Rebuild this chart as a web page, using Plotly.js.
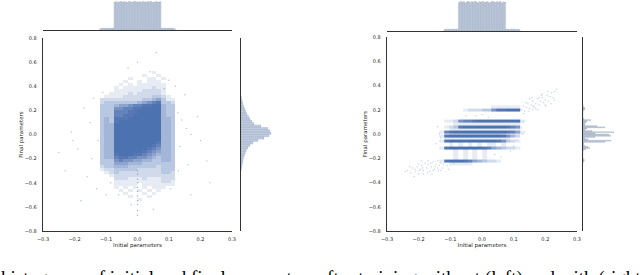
<!DOCTYPE html>
<html><head><meta charset="utf-8">
<script src="https://cdn.plot.ly/plotly-3.0.1.min.js"></script>
<style>html,body{margin:0;padding:0;background:#fff}#chart{width:640px;height:275px}</style>
</head><body><div id="chart"></div>
<script>
// ---------- DATA ----------
// Density grid of the left scatter (levels 0-9), rows top (y=0.55) to bottom (y=-0.55), 0.025 per row,
// columns x=-0.135..0.135, 0.015 per column
const leftDensityRows = [
"000000000000000000","000000000000100000","000000000010010000","000000010001101000",
"000000100101110000","000001010111111000","000010111111211000","000011111122221000",
"000111121222221000","001111222222332100","022222222233453110","023333333456783320",
"033345567788994330","033366778899994330","033377788999994330","033377889999994330",
"034388899999994430","034389999999994430","034499999999994430","034499999999994430",
"034499999999994430","034499999999994430","034499999999994430","034499999999994430",
"034499999999984430","034499999999874430","034499999998764430","034499999987654430",
"034489998876544430","034478877665434430","033367665544334430","033355544433333330",
"023344433333323330","012233333222223330","001232222222223320","000122222222222220",
"000022211121112220","000011111111112210","000011111011111110","000010101010111000",
"000001010101010000","000000100010100000","000000010001000000","000000000100000000"
];
// Density grid of the right scatter: band rows, top to bottom, with their y edges
const rightRowEdges = [0.235,0.207,0.183,0.12,0.096,0.072,0.049,0.026,0.004,-0.008,-0.03,-0.048,-0.071,-0.102,-0.127,-0.208,-0.232,-0.26];
const rightDensityRows = [
"000000000001111110","000001222336889990","000000000000000000","011267789999999991",
"000111111111111110","012389999999998760","001111111111111110","178999999999998751",
"012222222222221110","189999999999986420","011111111111111000","189999999999863210",
"001010101011010000","189999999875432210","000101010100000000","189998754322100000",
"001111100000000000"
];
// sparse points
const leftSparseX = [-0.21,-0.19,-0.23,-0.15,-0.16,-0.14,-0.17,-0.25,-0.13,-0.18,-0.205,-0.145,0.15,0.17,0.2,0.16,0.14,0.23,0.19,0.17,0.13,0.22,0.155,0.135,0.06,0.0,-0.03,0.05,-0.02,0.1,-0.1,0.12,-0.11,0.105,-0.125,0.128,-0.06,0.04,0.085,-0.085];
const leftSparseY = [0.02,-0.12,-0.3,0.1,-0.35,0.3,0.22,-0.15,-0.45,-0.55,-0.05,-0.2,0.33,0.0,-0.05,-0.25,0.12,-0.4,0.15,-0.5,-0.3,-0.22,0.05,-0.1,0.68,0.6,0.55,-0.62,-0.58,0.45,-0.5,0.4,0.35,-0.45,-0.05,0.18,-0.5,0.52,0.38,-0.4];
const leftLineX = [0,0,0,0,0,0,0,0,0,0,0];
const leftLineY = [-0.3,-0.33,-0.37,-0.4,-0.44,-0.47,-0.51,-0.55,-0.58,-0.63,-0.67];
const rightSparseX = [-0.235,-0.225,-0.22,-0.21,-0.205,-0.2,-0.195,-0.19,-0.185,-0.18,-0.175,-0.17,-0.165,-0.16,-0.155,-0.15,-0.145,-0.14,-0.135,-0.13,-0.125,-0.215,-0.2,-0.185,-0.17,-0.155,-0.14,-0.13,-0.11,-0.09,
 -0.228,-0.212,-0.198,-0.188,-0.172,-0.162,-0.148,-0.138,-0.122,-0.105,-0.242,-0.192,-0.158,
 0.125,0.13,0.135,0.14,0.145,0.15,0.155,0.16,0.165,0.17,0.175,0.18,0.185,0.19,0.195,0.2,0.205,0.21,0.215,0.22,0.225,0.23,0.235,0.14,0.16,0.18,0.2,0.15,0.17,0.19,
 0.132,0.148,0.162,0.176,0.188,0.202,0.218,0.228,0.158,0.208,
 0.13,0.125,0.128,0.11,0.1,0.09,0.06,0.04,-0.135,-0.14,-0.13,-0.145,-0.02,0.0,0.02,-0.05];
const rightSparseY = [-0.3,-0.32,-0.28,-0.31,-0.27,-0.33,-0.29,-0.26,-0.3,-0.24,-0.28,-0.25,-0.31,-0.27,-0.23,-0.29,-0.25,-0.22,-0.26,-0.24,-0.28,-0.35,-0.25,-0.33,-0.22,-0.3,-0.28,-0.3,-0.26,-0.24,
 -0.27,-0.29,-0.3,-0.28,-0.32,-0.24,-0.27,-0.3,-0.25,-0.29,-0.31,-0.22,-0.33,
 0.2,0.23,0.19,0.22,0.25,0.21,0.24,0.27,0.22,0.25,0.29,0.24,0.27,0.3,0.26,0.28,0.32,0.27,0.31,0.34,0.3,0.35,0.37,0.26,0.2,0.3,0.24,0.29,0.21,0.33,
 0.17,0.19,0.23,0.2,0.32,0.23,0.25,0.28,0.3,0.35,
 0.1,0.05,0.0,-0.05,-0.1,-0.14,-0.19,-0.17,0.0,0.06,-0.03,-0.08,0.15,0.16,0.14,0.15];
// marginal histograms: initial parameters (bins of 0.005 from -0.125)
const leftInitHist = [0,0.05,0.06,0.07,0.06,0.07,0.06,0.07,0.06,0.07,
 0.97,0.99,0.96,0.98,1.0,0.97,0.99,0.98,0.96,1.0,0.98,0.97,0.99,1.0,0.98,0.97,0.99,0.96,1.0,0.98,0.97,0.99,0.98,1.0,0.97,0.96,0.99,0.98,0.97,0.99,
 0.07,0.06,0.07,0.06,0.07,0.06,0.07,0.06,0.05,0];
const rightInitHist = [0,0.05,0.07,0.06,0.07,0.05,0.07,0.06,0.07,0.06,
 0.96,1.0,0.97,0.99,0.95,0.98,1.0,0.96,0.99,0.97,1.0,0.98,0.95,0.99,0.97,1.0,0.96,0.98,0.99,0.95,0.97,1.0,0.98,0.96,0.99,0.97,1.0,0.95,0.98,0.97,
 0.06,0.07,0.05,0.07,0.06,0.07,0.05,0.06,0.05,0];
// final parameters: left (bins of 0.02 from -0.3), right (bins of 0.01 from -0.25)
const leftFinalHist = [0.3,0.8,1.2,1.7,2.2,2.8,3.5,4.5,5.5,7,9,12,17,23,28,30,29,27,20,13,11,9,7.5,6,5,4,3,2,1.5,0.8,0.3];
const rightFinalHist = [0,0,1,1.5,0.5,0,0,0,0,0,0,0.5,3,7,5,1.5,0.5,1,22,28,5,2,12,28,26,12,31,9,2,4,22,14,2,1.5,3,4,8,1,0,0,0,0,0,0,0.5,2,2,0.5,0,0];
const yTicks = [-0.8,-0.6,-0.4,-0.2,0.0,0.2,0.4,0.6,0.8];
const xTicks = [-0.3,-0.2,-0.1,0.0,0.1,0.2,0.3];
const captionText = "histograms of initial and final parameters after training without (left) and with (right)";

// ---------- CHART ----------
const BLUE = '#4c72b0';
const scale = [[0,'#ffffff'],[0.111,'#e6ebf4'],[0.222,'#d0daeb'],[0.333,'#b9c8e2'],[0.444,'#a3b6d8'],
  [0.556,'#8da5ce'],[0.667,'#7893c4'],[0.778,'#6483bb'],[0.889,'#5677b3'],[1,BLUE]];
const toZ = rows => rows.slice().reverse().map(s => s.split('').map(Number));

const histStyle = {color:'rgba(76,114,176,0.36)', line:{color:'rgba(120,120,120,0.28)', width:0.4}};
const traces = [
  {type:'heatmap', xaxis:'x', yaxis:'y', z:toZ(leftDensityRows), x0:-0.1275, dx:0.015, y0:-0.5375, dy:0.025,
   colorscale:scale, zmin:0, zmax:9, showscale:false, hoverinfo:'skip'},
  {type:'scatter', mode:'markers', xaxis:'x', yaxis:'y', x:leftSparseX, y:leftSparseY, marker:{size:1.5,color:BLUE,opacity:0.4}, hoverinfo:'skip'},
  {type:'scatter', mode:'markers', xaxis:'x', yaxis:'y', x:leftLineX, y:leftLineY, marker:{size:1.5,color:BLUE,opacity:0.5}, hoverinfo:'skip'},
  {type:'bar', xaxis:'x2', yaxis:'y2', x0:-0.1225, dx:0.005, y:leftInitHist, marker:histStyle, hoverinfo:'skip'},
  {type:'bar', orientation:'h', xaxis:'x3', yaxis:'y3', y0:-0.29, dy:0.02, x:leftFinalHist, marker:histStyle, hoverinfo:'skip'},

  {type:'heatmap', xaxis:'x4', yaxis:'y4', z:toZ(rightDensityRows), x0:-0.1275, dx:0.015, y:rightRowEdges.slice().reverse(),
   colorscale:scale, zmin:0, zmax:9, showscale:false, hoverinfo:'skip'},
  {type:'scatter', mode:'markers', xaxis:'x4', yaxis:'y4', x:rightSparseX, y:rightSparseY, marker:{size:1.5,color:BLUE,opacity:0.3}, hoverinfo:'skip'},
  {type:'bar', xaxis:'x5', yaxis:'y5', x0:-0.1225, dx:0.005, y:rightInitHist, marker:histStyle, hoverinfo:'skip'},
  {type:'bar', orientation:'h', xaxis:'x6', yaxis:'y6', y0:-0.245, dy:0.01, x:rightFinalHist, marker:histStyle, hoverinfo:'skip'}
];

const W=640,H=275;
const px = (a,b)=>[a/W,b/W];
const py = (top,bottom)=>[(H-bottom)/H,(H-top)/H];
const tf = {family:'DejaVu Sans, sans-serif', size:5, color:'#262626'};
const lineC = '#333333';
function mainX(dom, anchor){return {domain:dom, anchor:anchor, range:[-0.3,0.3], tickvals:xTicks, tickformat:'.1f',
  showline:true, linecolor:lineC, linewidth:1.2, showgrid:false, zeroline:false, ticks:'outside', ticklen:3, tickcolor:'rgba(0,0,0,0)',
  tickfont:tf, title:{text:'Initial parameters', font:{family:'DejaVu Sans, sans-serif', size:5.5, color:'#262626'}, standoff:2}};}
function mainY(dom, anchor){return {domain:dom, anchor:anchor, range:[-0.8,0.8], tickvals:yTicks, tickformat:'.1f',
  showline:true, linecolor:lineC, linewidth:1.2, showgrid:false, zeroline:false, ticks:'outside', ticklen:4, tickcolor:'rgba(0,0,0,0)',
  tickfont:tf, title:{text:'Final parameters', font:{family:'DejaVu Sans, sans-serif', size:5.5, color:'#262626'}, standoff:0}};}
const hidden = {showgrid:false, zeroline:false, showticklabels:false, ticks:''};

const layout = {
  width:W, height:H, margin:{l:0,r:0,t:0,b:0}, showlegend:false, bargap:0,
  paper_bgcolor:'#fff', plot_bgcolor:'rgba(0,0,0,0)',
  xaxis: mainX(px(43,232),'y'),
  yaxis: mainY(py(38,231),'x'),
  xaxis2: Object.assign({domain:px(43,232), anchor:'y2', range:[-0.3,0.3], showline:true, linecolor:lineC, linewidth:1.2}, hidden),
  yaxis2: Object.assign({domain:py(0,30), anchor:'x2', range:[0,1.04], showline:false}, hidden),
  xaxis3: Object.assign({domain:px(241,275), anchor:'y3', range:[0,34], showline:false}, hidden),
  yaxis3: Object.assign({domain:py(38,231), anchor:'x3', range:[-0.8,0.8], showline:true, linecolor:lineC, linewidth:1.2}, hidden),
  xaxis4: mainX(px(387,577),'y4'),
  yaxis4: mainY(py(37,231),'x4'),
  xaxis5: Object.assign({domain:px(387,577), anchor:'y5', range:[-0.3,0.3], showline:true, linecolor:lineC, linewidth:1.2}, hidden),
  yaxis5: Object.assign({domain:py(0,31), anchor:'x5', range:[0,1.04], showline:false}, hidden),
  xaxis6: Object.assign({domain:px(583,617), anchor:'y6', range:[0,34], showline:false}, hidden),
  yaxis6: Object.assign({domain:py(37,231), anchor:'x6', range:[-0.8,0.8], showline:true, linecolor:lineC, linewidth:1.2}, hidden),
  annotations:[{xref:'paper', yref:'paper', x:-0.002, y:0.0364, xanchor:'left', yanchor:'top', showarrow:false,
    text:captionText, font:{family:'Liberation Serif, serif', size:19, color:'#000'}}]
};
Plotly.newPlot('chart', traces, layout, {staticPlot:true, displayModeBar:false});
</script></body></html>
